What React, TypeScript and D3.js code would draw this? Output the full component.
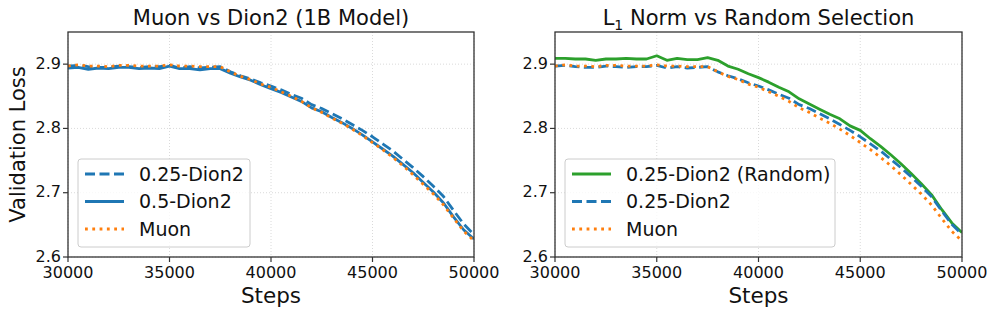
import React from 'react';
import { scaleLinear, line, range } from 'd3';

const steps = range(30000, 50001, 500);

const muon = [
  2.897, 2.899, 2.897, 2.897, 2.896, 2.898, 2.898, 2.897, 2.897, 2.897, 2.899,
  2.897, 2.897, 2.896, 2.896, 2.896, 2.888, 2.881, 2.876, 2.869, 2.864, 2.857,
  2.85, 2.842, 2.832, 2.825, 2.816, 2.808, 2.799, 2.789, 2.778, 2.767, 2.755,
  2.742, 2.728, 2.713, 2.698, 2.681, 2.66, 2.64, 2.625,
];
const dion025 = [
  2.897, 2.898, 2.896, 2.895, 2.895, 2.897, 2.896, 2.895, 2.896, 2.896, 2.898,
  2.894, 2.896, 2.894, 2.895, 2.896, 2.888, 2.882, 2.877, 2.871, 2.866, 2.86,
  2.853, 2.847, 2.837, 2.831, 2.823, 2.815, 2.806, 2.797, 2.787, 2.776, 2.765,
  2.752, 2.739, 2.725, 2.71, 2.694, 2.672, 2.651, 2.635,
];
const dion05 = [
  2.894, 2.895, 2.892, 2.894, 2.893, 2.895, 2.895, 2.893, 2.894, 2.893, 2.897,
  2.893, 2.893, 2.891, 2.893, 2.893, 2.886, 2.88, 2.875, 2.868, 2.862, 2.856,
  2.849, 2.842, 2.832, 2.826, 2.817, 2.809, 2.8, 2.79, 2.779, 2.768, 2.757,
  2.744, 2.731, 2.716, 2.701, 2.684, 2.662, 2.642, 2.628,
];
const dion025Random = [
  2.909, 2.909, 2.908, 2.908, 2.906, 2.908, 2.908, 2.909, 2.908, 2.908, 2.913,
  2.906, 2.909, 2.907, 2.907, 2.91, 2.906, 2.897, 2.892, 2.885, 2.879, 2.872,
  2.864, 2.857, 2.846, 2.838, 2.83, 2.822, 2.815, 2.804, 2.797, 2.784, 2.772,
  2.759, 2.745, 2.73, 2.714, 2.697, 2.674, 2.653, 2.638,
];

const xTicks = [30000, 35000, 40000, 45000, 50000];
const yTicks = [2.6, 2.7, 2.8, 2.9];

const BLUE = '#1f77b4';
const ORANGE = '#ff7f0e';
const GREEN = '#2ca02c';
const FONT = 'DejaVu Sans, sans-serif';

type Series = { label: string; values: number[]; color: string; dash?: string };

const leftSeries: Series[] = [
  { label: '0.25-Dion2', values: dion025, color: BLUE, dash: '10,4.5' },
  { label: '0.5-Dion2', values: dion05, color: BLUE },
  { label: 'Muon', values: muon, color: ORANGE, dash: '2.8,4.5' },
];
const rightSeries: Series[] = [
  { label: '0.25-Dion2 (Random)', values: dion025Random, color: GREEN },
  { label: '0.25-Dion2', values: dion025, color: BLUE, dash: '10,4.5' },
  { label: 'Muon', values: muon, color: ORANGE, dash: '2.8,4.5' },
];

const Panel: React.FC<{
  left: number;
  right: number;
  title: React.ReactNode;
  series: Series[];
  legendWidth: number;
  yLabel?: boolean;
}> = ({ left, right, title, series, legendWidth, yLabel }) => {
  const top = 32;
  const bottom = 257;
  const x = scaleLinear().domain([30000, 50000]).range([left, right]);
  const y = scaleLinear().domain([2.6, 2.95]).range([bottom, top]);
  const gen = line<number>()
    .x((_, i) => x(steps[i]))
    .y((d) => y(d));
  const cx = (left + right) / 2;
  const lx = left + 10;
  const ly = 159;

  return (
    <g fontFamily={FONT}>
      {/* grid */}
      {xTicks.map((t) => (
        <line key={'gx' + t} x1={x(t)} x2={x(t)} y1={top} y2={bottom}
          stroke="#d0d0d0" strokeWidth={0.8} strokeDasharray="1,2" />
      ))}
      {yTicks.map((t) => (
        <line key={'gy' + t} x1={left} x2={right} y1={y(t)} y2={y(t)}
          stroke="#d0d0d0" strokeWidth={0.8} strokeDasharray="1,2" />
      ))}
      <defs>
        <clipPath id={'clip' + left}>
          <rect x={left} y={top} width={right - left} height={bottom - top} />
        </clipPath>
      </defs>
      <g clipPath={`url(#clip${left})`}>
        {series.map((s) => (
          <path key={s.label} d={gen(s.values) ?? ''} fill="none" stroke={s.color}
            strokeWidth={2.8} strokeDasharray={s.dash} strokeLinejoin="round" />
        ))}
      </g>
      <rect x={left} y={top} width={right - left} height={bottom - top}
        fill="none" stroke="#333" strokeWidth={1.3} />
      {/* ticks */}
      {xTicks.map((t) => (
        <g key={'tx' + t}>
          <line x1={x(t)} x2={x(t)} y1={bottom} y2={bottom + 5} stroke="#333" strokeWidth={1.2} />
          <text x={x(t)} y={bottom + 21} textAnchor="middle" fontSize={16} fill="#111">{t}</text>
        </g>
      ))}
      {yTicks.map((t) => (
        <g key={'ty' + t}>
          <line x1={left - 5} x2={left} y1={y(t)} y2={y(t)} stroke="#333" strokeWidth={1.2} />
          <text x={left - 7} y={y(t) - 1} dy="0.35em" textAnchor="end" fontSize={16} fill="#111">{t.toFixed(1)}</text>
        </g>
      ))}
      <text x={cx} y={25} textAnchor="middle" fontSize={21} fill="#111">{title}</text>
      <text x={cx} y={303} textAnchor="middle" fontSize={21.5} fill="#111">Steps</text>
      {yLabel && (
        <text transform={`translate(25,${(top + bottom) / 2}) rotate(-90)`} textAnchor="middle"
          fontSize={21} fill="#111">Validation Loss</text>
      )}
      {/* legend */}
      <rect x={lx} y={ly} width={legendWidth} height={88} rx={3} fill="white"
        fillOpacity={0.8} stroke="#cccccc" strokeWidth={1} />
      {series.map((s, i) => {
        const yy = ly + 15 + i * 27.5;
        return (
          <g key={'lg' + s.label}>
            <line x1={lx + 7} x2={lx + 46} y1={yy} y2={yy} stroke={s.color} strokeWidth={2.8}
              strokeDasharray={s.dash} />
            <text x={lx + 61} y={yy} dy="0.35em" fontSize={19} fill="#111">{s.label}</text>
          </g>
        );
      })}
    </g>
  );
};

export default function App() {
  return (
    <svg width={997} height={315} style={{ display: 'block', position: 'absolute', left: 0, top: 0 }}>
      <rect width={997} height={315} fill="white" />
      <Panel left={68} right={474} series={leftSeries} legendWidth={172} yLabel
        title="Muon vs Dion2 (1B Model)" />
      <Panel left={555} right={962} series={rightSeries} legendWidth={270}
        title={<>L<tspan fontSize={14} dy={5}>1</tspan><tspan dy={-5}> Norm vs Random Selection</tspan></>} />
    </svg>
  );
}
